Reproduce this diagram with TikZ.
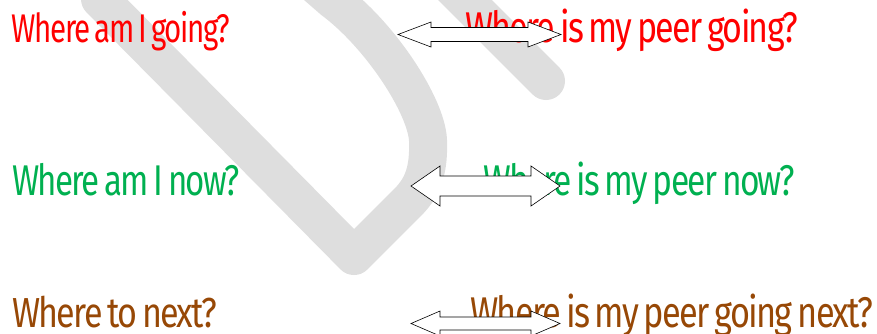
\documentclass[tikz,border=0pt]{standalone}
\usepackage{fontspec}
\setmainfont{Fira Sans}[LetterSpace=-5]
\usepackage{graphicx}
\definecolor{tred}{HTML}{FF0000}
\definecolor{tgreen}{HTML}{00B050}
\definecolor{tbrown}{HTML}{974806}
\definecolor{wm}{HTML}{DEDEDE}
% width-fitted text: #1 width (pt), #2 font size, #3 text
\newcommand\fitw[3]{\resizebox{#1pt}{\height}{\fontsize{#2}{#2}\selectfont\spaceskip=0.14em\relax #3}}
% double block arrow: x1, x2, y centre, half height, half shaft, head length
\newcommand\blockdbl[6]{%
  \draw[blockarrow] (#1,#3) -- (#1+#6,#3-#4) -- (#1+#6,#3-#5) -- (#2-#6,#3-#5)
    -- (#2-#6,#3-#4) -- (#2,#3) -- (#2-#6,#3+#4) -- (#2-#6,#3+#5)
    -- (#1+#6,#3+#5) -- (#1+#6,#3+#4) -- cycle;}
\tikzset{
  lbl/.style={anchor=base west, inner sep=0pt, outer sep=0pt},
  wmark/.style={draw=wm, line width=38pt, line cap=round, line join=round},
  blockarrow/.style={draw=black, fill=white, line width=0.6pt, line join=miter},
}
\begin{document}
\begin{tikzpicture}[x=1pt,y=-1pt]
\useasboundingbox (0,0) rectangle (877,333);
\begin{scope}
  \clip (0,0) rectangle (877,333);
  \draw[wmark] (100,-1) -- (354,256) -- (408,202)
     .. controls (424,186) and (429,168) .. (428,140)
     .. controls (426,105) and (380,35) .. (333,0) -- (310,-20);
  \draw[wmark] (440,-25) -- (546,81);
\end{scope}

\node[lbl, text=tred]   (t1) at (12,42)  {\fitw{218}{40}{Where am I going?}};
\node[lbl, text=tred]   (t2) at (465,42) {\fitw{333}{43}{Where is my peer going?}};
\node[lbl, text=tgreen] (t3) at (12,195) {\fitw{228}{43}{Where am I now?}};
\node[lbl, text=tgreen] (t4) at (483,195){\fitw{312}{43}{Where is my peer now?}};
\node[lbl, text=tbrown] (t5) at (12,327) {\fitw{205}{42}{Where to next?}};
\node[lbl, text=tbrown] (t6) at (470,327){\fitw{403}{43}{Where is my peer going next?}};

\blockdbl{398}{561}{34.5}{12.5}{7}{33}
\blockdbl{411}{560}{186}{20}{10}{29}
\blockdbl{411}{560}{323.5}{12.5}{6.5}{29}
\end{tikzpicture}
\end{document}
